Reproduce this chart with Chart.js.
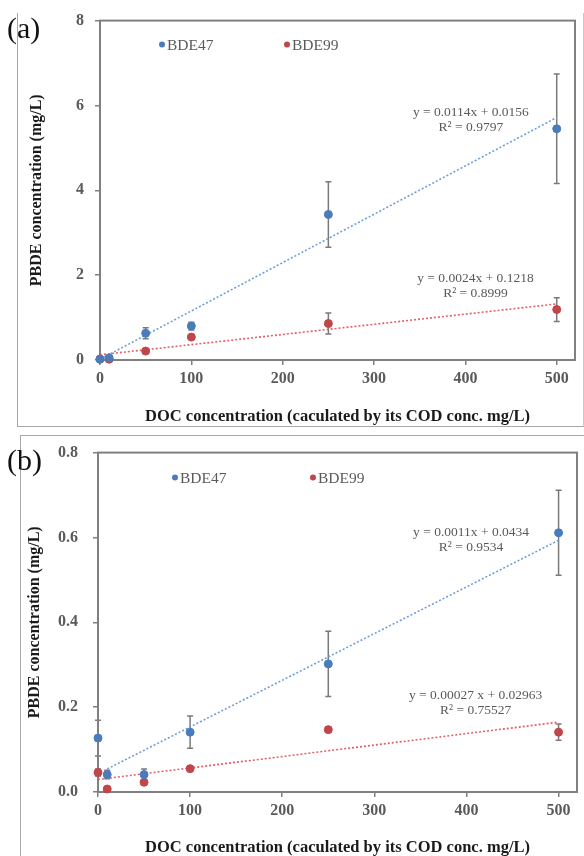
<!DOCTYPE html>
<html>
<head>
<meta charset="utf-8">
<script src="https://cdn.jsdelivr.net/npm/chart.js@4/dist/chart.umd.min.js"></script>
<style>
  html, body { margin: 0; padding: 0; background: #fff; overflow: hidden; }
  #wrap { position: relative; width: 584px; height: 856px; background: #fff; }
  canvas { position: absolute; left: 0; }
  .frame { position: absolute; box-sizing: border-box; }
  .tag { position: absolute; font-family: "Liberation Serif", "Times New Roman", serif; font-size: 30px; color: #111; line-height: 1; }
</style>
</head>
<body>
<div id="wrap">
  <div class="frame" style="left:17px;top:13px;width:567px;height:414px;border-left:1px solid #a8a8a8;border-bottom:1px solid #a8a8a8;border-right:1px solid #c8c8c8;"></div>
  <div class="frame" style="left:20px;top:435px;width:564px;height:421px;border-left:1px solid #a8a8a8;border-top:1px solid #a8a8a8;"></div>
  <canvas id="chartA" width="584" height="430" style="top:0"></canvas>
  <canvas id="chartB" width="584" height="432" style="top:428px"></canvas>
  <div class="tag" style="left:7px;top:13px;">(a)</div>
  <div class="tag" style="left:7px;top:445px;">(b)</div>
</div>
<script>
// DOC concentration levels (mg/L, from COD)
const docLevels = [0, 10, 50, 100, 250, 500];
const xTickValues = [0, 100, 200, 300, 400, 500];
const seriesNames = ['BDE47', 'BDE99'];

// Panel (a): PBDE concentration (mg/L) with standard deviations
const bde47A = [0.02, 0.05, 0.63, 0.80, 3.43, 5.45];
const bde47ErrA = [0.01, 0.02, 0.13, 0.09, 0.77, 1.29];
const bde99A = [0.02, 0.02, 0.21, 0.54, 0.86, 1.19];
const bde99ErrA = [0.0, 0.0, 0.02, 0.02, 0.25, 0.28];
const yTickValuesA = [0, 2, 4, 6, 8];

// Panel (a): linear fits
const slopeA = [0.0114, 0.0024];
const interceptA = [0.0156, 0.1218];
const fitRangeA = [[0, 500], [0, 500]];
const eqTextA = ['y = 0.0114x + 0.0156', 'y = 0.0024x + 0.1218'];
const r2TextA = ['R\u00B2 = 0.9797', 'R\u00B2 = 0.8999'];

// Panel (b)
const bde47B = [0.127, 0.041, 0.041, 0.141, 0.302, 0.611];
const bde47ErrB = [0.042, 0.010, 0.013, 0.038, 0.077, 0.100];
const bde99B = [0.046, 0.007, 0.023, 0.055, 0.147, 0.141];
const bde99ErrB = [0.008, 0.003, 0.004, 0.004, 0.006, 0.019];
const yTickValuesB = [0, 0.2, 0.4, 0.6, 0.8];

const slopeB = [0.0011, 0.00027];
const interceptB = [0.0434, 0.02963];
const fitRangeB = [[10, 500], [0, 500]];
const eqTextB = ['y = 0.0011x + 0.0434', 'y = 0.00027 x + 0.02963'];
const r2TextB = ['R\u00B2 = 0.9534', 'R\u00B2 = 0.75527'];

const SERIF = '"Liberation Serif", "Times New Roman", serif';
const BLUE = '#4a7cbc';
const RED = '#c0464a';
const BLUE_FIT = '#6f9fd8';
const RED_FIT = '#e0606a';
const GREY_TXT = '#5a5a5a';
const AXIS = '#808080';

function pts(xs, ys) { return xs.map((x, i) => ({ x: x, y: ys[i] })); }
function fitPts(slope, icpt, range) { return range.map(x => ({ x: x, y: slope * x + icpt })); }

// Vertical error bars with caps, drawn under the markers
const errorBars = {
  id: 'errorBars',
  beforeDatasetsDraw(chart) {
    const { ctx, scales: { x, y } } = chart;
    ctx.save();
    ctx.strokeStyle = '#7a7a7a';
    ctx.lineWidth = 1.5;
    chart.data.datasets.forEach(ds => {
      if (!ds.errors) return;
      ds.data.forEach((p, i) => {
        const e = ds.errors[i];
        if (!e) return;
        const px = x.getPixelForValue(p.x);
        const top = y.getPixelForValue(p.y + e);
        const bot = y.getPixelForValue(p.y - e);
        ctx.beginPath();
        ctx.moveTo(px, top); ctx.lineTo(px, bot);
        ctx.moveTo(px - 3, top); ctx.lineTo(px + 3, top);
        ctx.moveTo(px - 3, bot); ctx.lineTo(px + 3, bot);
        ctx.stroke();
      });
    });
    ctx.restore();
  }
};

// Plot-area frame
const plotFrame = {
  id: 'plotFrame',
  beforeDatasetsDraw(chart) {
    const { ctx, chartArea: a } = chart;
    ctx.save();
    ctx.strokeStyle = AXIS;
    ctx.lineWidth = 2;
    ctx.strokeRect(a.left, a.top, a.right - a.left, a.bottom - a.top);
    ctx.restore();
  }
};

// In-plot legend and fit equations
const notes = {
  id: 'notes',
  afterDatasetsDraw(chart, args, opts) {
    const { ctx, chartArea: a, scales: { x, y } } = chart;
    ctx.save();
    ctx.textBaseline = 'middle';
    ctx.fillStyle = GREY_TXT;
    (opts.legend || []).forEach(it => {
      const cx = a.left + it.dx, cy = a.top + it.dy;
      ctx.beginPath();
      ctx.fillStyle = it.color;
      ctx.arc(cx, cy, 3, 0, Math.PI * 2);
      ctx.fill();
      ctx.fillStyle = GREY_TXT;
      ctx.font = '15.5px ' + SERIF;
      ctx.textAlign = 'left';
      ctx.fillText(it.text, cx + 5, cy + 1);
    });
    ctx.font = '13.5px ' + SERIF;
    ctx.textAlign = 'center';
    (opts.equations || []).forEach(eq => {
      const px = x.getPixelForValue(eq.x), py = y.getPixelForValue(eq.y);
      ctx.fillText(eq.lines[0], px, py);
      ctx.fillText(eq.lines[1], px, py + 15);
    });
    ctx.restore();
  }
};

function makeChart(id, cfg) {
  return new Chart(document.getElementById(id), {
    type: 'scatter',
    data: {
      datasets: [
        { label: seriesNames[0] + ' fit', data: fitPts(cfg.slope[0], cfg.icpt[0], cfg.range[0]), showLine: true,
          borderColor: BLUE_FIT, borderWidth: 1.6, borderDash: [2, 2], pointRadius: 0, order: 1, clip: false },
        { label: seriesNames[1] + ' fit', data: fitPts(cfg.slope[1], cfg.icpt[1], cfg.range[1]), showLine: true,
          borderColor: RED_FIT, borderWidth: 1.6, borderDash: [2, 2], pointRadius: 0, order: 1, clip: false },
        { label: seriesNames[0], data: pts(docLevels, cfg.s47), errors: cfg.e47,
          backgroundColor: BLUE, borderColor: BLUE, pointRadius: 4, order: 0, clip: false },
        { label: seriesNames[1], data: pts(docLevels, cfg.s99), errors: cfg.e99,
          backgroundColor: RED, borderColor: RED, pointRadius: 4, order: 0, clip: false }
      ]
    },
    options: {
      responsive: false,
      animation: false,
      events: [],
      layout: { padding: { left: 0, top: cfg.padTop, right: cfg.padRight, bottom: 0 } },
      plugins: {
        legend: { display: false },
        tooltip: { enabled: false },
        notes: { legend: cfg.legend, equations: cfg.equations }
      },
      scales: {
        x: {
          type: 'linear', min: 0, max: 520,
          afterBuildTicks: s => { s.ticks = xTickValues.map(v => ({ value: v })); },
          afterFit: s => { s.height = cfg.xHeight; },
          border: { display: true, color: AXIS, width: 2 },
          grid: { drawOnChartArea: false, drawTicks: true, tickLength: 5, color: AXIS, lineWidth: 1.5 },
          ticks: { color: GREY_TXT, padding: 4, font: { family: SERIF, size: 16, weight: 'bold' } },
          title: { display: true, text: 'DOC concentration (caculated by its COD conc. mg/L)', color: '#1a1a1a',
                   padding: { top: 0, bottom: cfg.xTitlePad }, font: { family: SERIF, size: 16.5, weight: 'bold' } }
        },
        y: {
          type: 'linear', min: cfg.yTicks[0], max: cfg.yTicks[cfg.yTicks.length - 1],
          afterBuildTicks: s => { s.ticks = cfg.yTicks.map(v => ({ value: v })); },
          afterFit: s => { s.width = cfg.yWidth; },
          border: { display: true, color: AXIS, width: 2 },
          grid: { drawOnChartArea: false, drawTicks: true, tickLength: 5, color: AXIS, lineWidth: 1.5 },
          ticks: { color: GREY_TXT, padding: cfg.yTickPad, font: { family: SERIF, size: 16, weight: 'bold' },
                   callback: v => cfg.yFmt(v) },
          title: { display: true, text: 'PBDE concentration (mg/L)', color: '#1a1a1a',
                   padding: { top: cfg.yTitlePad, bottom: 0 }, font: { family: SERIF, size: 16, weight: 'bold' } }
        }
      }
    },
    plugins: [errorBars, plotFrame, notes]
  });
}

makeChart('chartA', {
  s47: bde47A, e47: bde47ErrA, s99: bde99A, e99: bde99ErrA,
  slope: slopeA, icpt: interceptA, range: fitRangeA,
  yTicks: yTickValuesA, yFmt: v => String(v),
  padTop: 17, padRight: 9, yWidth: 100, xHeight: 70, yTickPad: 11, xTitlePad: 3, yTitlePad: 27,
  legend: [
    { dx: 62, dy: 24, color: BLUE, text: seriesNames[0] },
    { dx: 187, dy: 24, color: RED, text: seriesNames[1] }
  ],
  equations: [
    { x: 406, y: 5.83, lines: [eqTextA[0], r2TextA[0]] },
    { x: 411, y: 1.93, lines: [eqTextA[1], r2TextA[1]] }
  ]
});

makeChart('chartB', {
  s47: bde47B, e47: bde47ErrB, s99: bde99B, e99: bde99ErrB,
  slope: slopeB, icpt: interceptB, range: fitRangeB,
  yTicks: yTickValuesB, yFmt: v => v.toFixed(1),
  padTop: 17, padRight: 7, yWidth: 98, xHeight: 68, yTickPad: 15, xTitlePad: 2, yTitlePad: 25,
  legend: [
    { dx: 77, dy: 25, color: BLUE, text: seriesNames[0] },
    { dx: 215, dy: 25, color: RED, text: seriesNames[1] }
  ],
  equations: [
    { x: 405, y: 0.611, lines: [eqTextB[0], r2TextB[0]] },
    { x: 410, y: 0.228, lines: [eqTextB[1], r2TextB[1]] }
  ]
});
</script>
</body>
</html>
